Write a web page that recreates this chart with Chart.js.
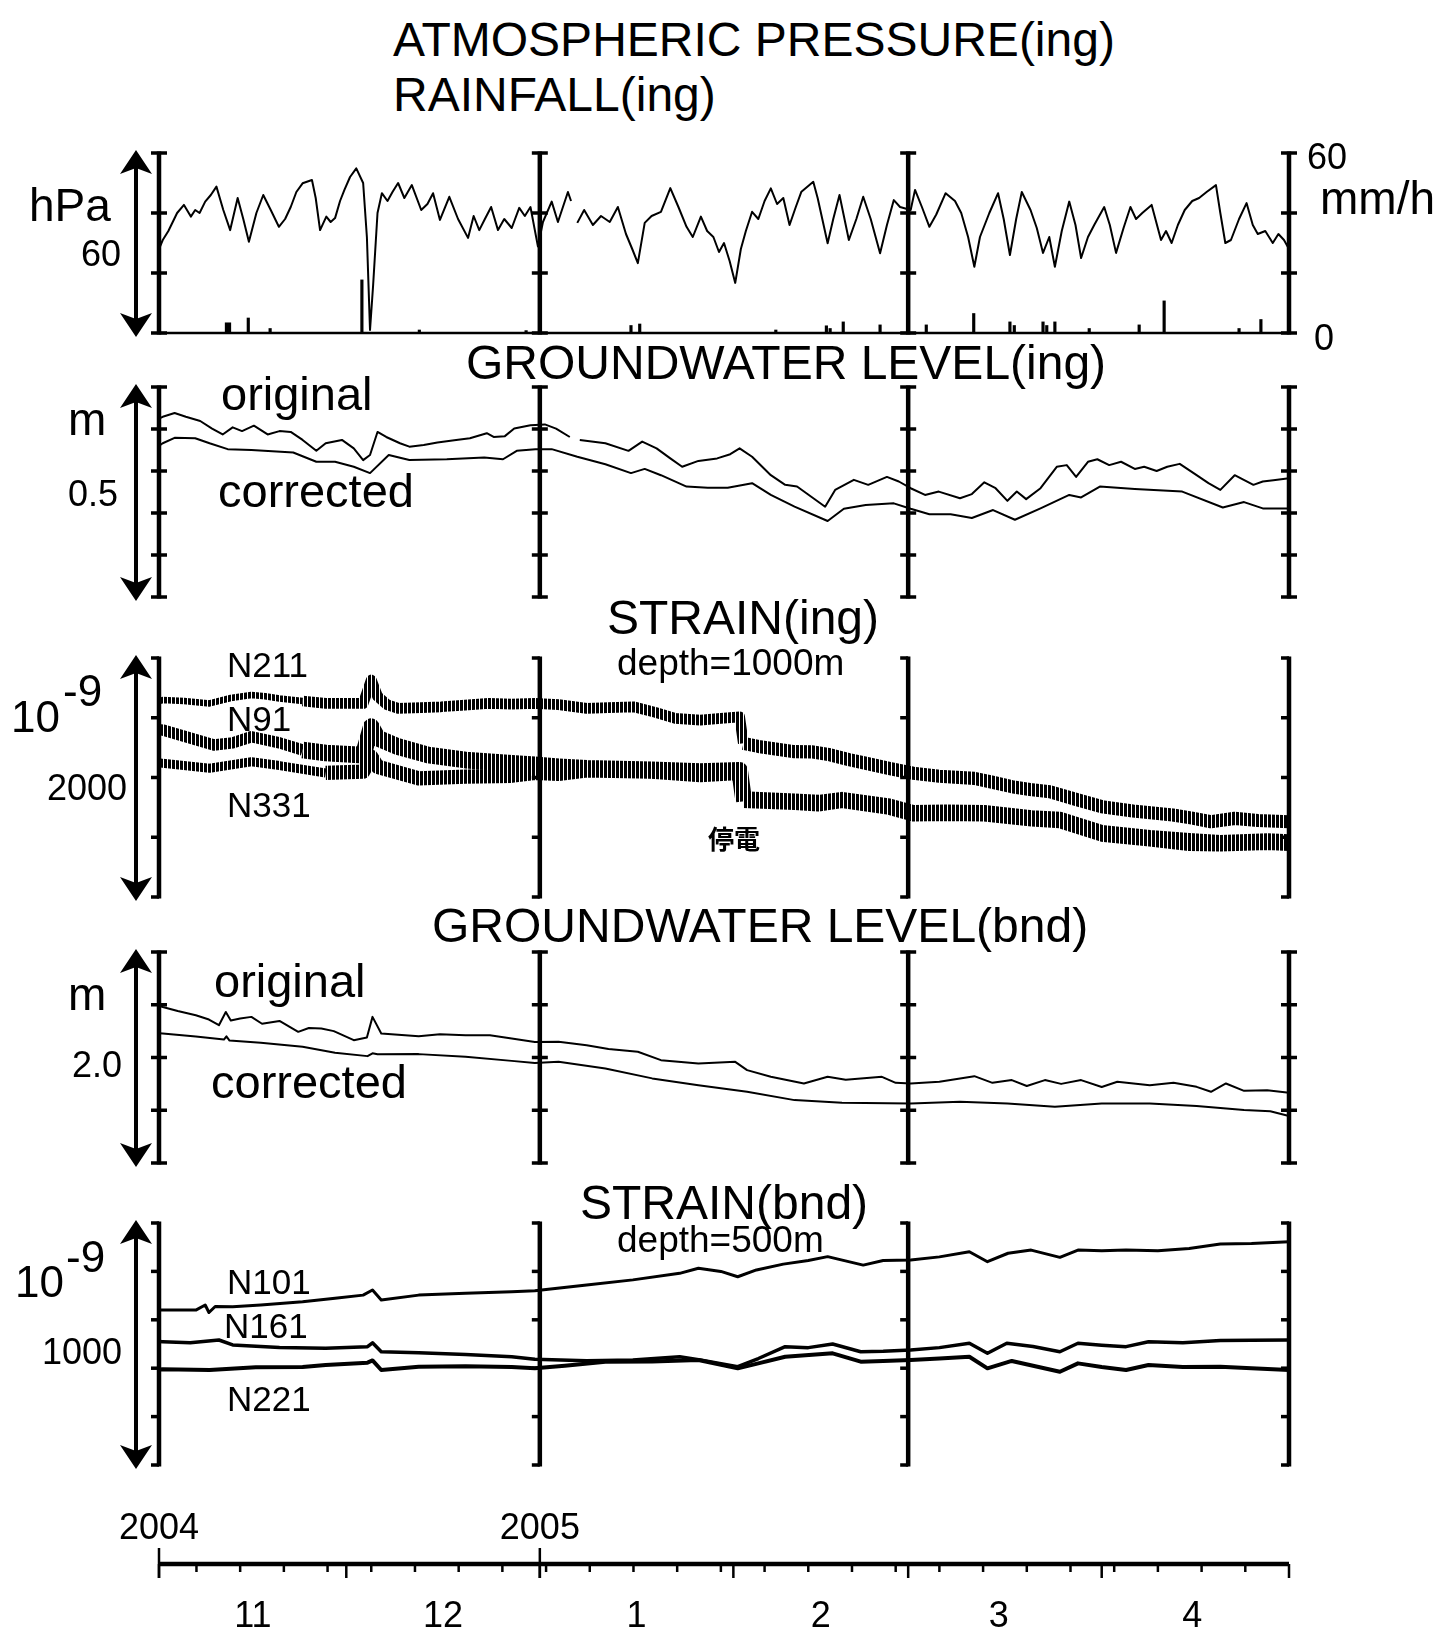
<!DOCTYPE html>
<html>
<head>
<meta charset="utf-8">
<title>ing / bnd record</title>
<script src="https://cdn.jsdelivr.net/npm/chart.js@4.4.1/dist/chart.umd.min.js"></script>
<style>
  html, body { margin: 0; padding: 0; background: #fff; }
  #page { position: relative; width: 1442px; height: 1633px; overflow: hidden;
          font-family: "Liberation Sans", Arial, sans-serif; color: #000; }
  #page canvas { position: absolute; left: 0; }
  .lbl { position: absolute; white-space: nowrap; line-height: 1; }
  .jp { font-family: "Noto Sans CJK JP", sans-serif; font-weight: 700; }
</style>
</head>
<body>
<div id="page"></div>
<script>
// x values are days since 2004-11-01 (0 = Nov 1, 181 = May 1)
const DAY_MAX = 181;
const bracketDays = [0, 61, 120, 181];
const yearStartDays = [0, 61];
const yearLabels = ['2004', '2005'];
const monthStartDays = [0, 30, 61, 92, 120, 151, 181];
const monthMidDays = [15, 45.5, 76.5, 106, 134.5, 165.5];
const monthLabels = ['11', '12', '1', '2', '3', '4'];
const weekTickDays = [6, 13, 20, 27, 34, 41, 48, 55, 62, 69, 76, 83, 90, 97, 104, 111,
  118, 125, 132, 139, 146, 153, 160, 167, 174];

// atmospheric pressure (hPa)
const pressDays = [0, 0.6, 1.5, 2.9, 4, 5.1, 5.8, 6.5, 7.4, 8.3, 9.2, 10.3, 11.4, 12.6, 13.5, 14.4,
  15.6, 16.7, 17.9, 19.2, 20.2, 21.1, 22, 23, 24.5, 25.1, 25.8, 26.8, 27.5, 28.2, 29, 29.7, 30.6,
  31.6, 32.7, 33.3, 33.8, 34.3, 35, 35.7, 36.6, 37.4, 38.3, 39.3, 40.5, 42, 43, 43.9, 45, 46.5,
  47.9, 49.5, 50.4, 51.3, 52.2, 53.2, 54.3, 55.3, 56.5, 57.7, 58.6, 59.5, 60.7, 61.5, 62.9, 63.9,
  65.5, 66, 66.5, 67, 68.1, 69.5, 70.8, 72.2, 73.5, 74.8, 75.8, 76.7, 77.8, 78.9, 80.4, 81.9, 83.2,
  84.5, 85.5, 86.8, 87.8, 88.8, 89.7, 90.5, 91.4, 92.3, 93.2, 94, 95, 96, 97, 98, 99, 100, 101,
  102, 102.9, 104.8, 105.5, 107.1, 108, 109, 110.5, 111.7, 112.8, 114, 115.5, 116.6, 117.7, 118.7,
  120.4, 121.1, 122.2, 123.4, 124.5, 126, 127.5, 128.5, 129.6, 130.6, 131.5, 133, 134.4, 135.3,
  136.3, 137.3, 138.2, 139.6, 140.6, 141.6, 142.6, 143.5, 144.6, 145.8, 146.8, 147.7, 148.8,
  149.8, 151.4, 152.3, 153.3, 154.5, 155.6, 156.5, 157.5, 159, 160.5, 161.3, 162.2, 163.2, 164.3,
  165.5, 166.6, 167.8, 169.3, 170, 170.8, 171.7, 173, 174.2, 175.2, 176, 177.2, 178.4, 179.3,
  180.2, 181];
const pressHpa = [1008, 1011, 1014, 1020, 1022.7, 1018.8, 1021, 1020, 1023.8, 1026, 1028.8, 1021,
  1014.3, 1025, 1018, 1010.4, 1020, 1026, 1021, 1015.4, 1018, 1022, 1027, 1029.9, 1031, 1025,
  1014.3, 1018.8, 1017, 1018.3, 1024, 1027.7, 1032, 1034.9, 1030, 1012, 981, 996, 1020, 1026.6,
  1024, 1027, 1030, 1025, 1029.3, 1021, 1023, 1026.6, 1017.7, 1025.4, 1018, 1011.7, 1019, 1014.3,
  1018, 1022, 1014.3, 1018, 1015, 1021.7, 1019, 1022, 1008.8, 1017, 1023.8, 1017, 1027, 1024,
  null, 1016.7, 1021, 1016, 1019, 1017, 1022, 1013, 1008, 1003.3, 1016.7, 1019, 1020.4, 1028.3,
  1022, 1015.4, 1012, 1018.8, 1014, 1012, 1007, 1010, 1004, 996.7, 1008, 1014, 1020.4, 1018,
  1024, 1028.2, 1023, 1025, 1016, 1022, 1027.1, 1030.4, 1025, 1009.9, 1018, 1026, 1011, 1018,
  1025.4, 1018, 1006.6, 1016, 1024.3, 1022, 1021, 1027.7, 1022, 1015.4, 1019.5, 1026.6, 1024,
  1020, 1012, 1002.1, 1012, 1020, 1026.6, 1018, 1006, 1018, 1027, 1021, 1015, 1006.7, 1012,
  1002.1, 1014, 1023.8, 1016, 1005, 1012, 1016, 1022, 1016, 1006.7, 1015, 1022, 1018, 1020,
  1022.7, 1011, 1014, 1010, 1016, 1021, 1024, 1025, 1027, 1029.3, 1020, 1010, 1011, 1018, 1023.3,
  1016, 1013, 1014, 1010, 1013, 1011, 1008];

// rainfall (mm/h)
const rainDays = [10.8, 11.3, 14.3, 17.8, 32.5, 41.7, 58.8, 75.6, 77, 98.8, 106.9, 107.5, 109.6,
  115.5, 122.9, 130.5, 136.3, 137, 141.6, 142.2, 143.5, 149, 157, 161, 173, 176.5];
const rainMm = [3.4, 3.4, 5, 1.5, 17.7, 1, 0.8, 2.5, 3, 1, 2.4, 1.5, 3.7, 2.7, 2.7, 6.5, 3.7, 2.5,
  3.7, 2.5, 3.7, 1.5, 2.7, 10.7, 1.5, 4.5];

// groundwater level (ing), m
const gwIngOrigDays = [0, 0.6, 2.5, 4.3, 6.6, 8.5, 10.2, 11.8, 13.3, 15.2, 17.4, 19.3, 21.1, 23,
  25.2, 26.7, 29.3, 31.2, 32.7, 33.8, 35, 36.4, 38.6, 40.1, 42.4, 44.6, 47.6, 49.8, 52.5, 53.6,
  55.4, 56.9, 59.5, 61.8, 63.6, 65.8, 66.6, 67.4, 71.5, 75.2, 77.4, 79.7, 81.9, 83.8, 86.4, 89.4,
  91.5, 93, 95, 98, 100.3, 102.2, 106.7, 108.3, 111.3, 113.6, 116.6, 118.5, 120.4, 122.7, 124.9,
  128.3, 130.2, 132.2, 134, 135.9, 137.4, 138.9, 141.2, 143.8, 145.4, 146.9, 148.8, 150.3, 152.2,
  154.1, 156.3, 157.8, 159.8, 161.5, 163.5, 166.2, 168.1, 170, 172.3, 175.3, 176.8, 178.5, 181];
const gwIngOrig = [0.425, 0.429, 0.438, 0.429, 0.419, 0.401, 0.387, 0.404, 0.395, 0.408, 0.387,
  0.395, 0.393, 0.374, 0.348, 0.366, 0.374, 0.354, 0.326, 0.338, 0.393, 0.381, 0.366, 0.358, 0.362,
  0.368, 0.374, 0.378, 0.39, 0.381, 0.383, 0.401, 0.409, 0.411, 0.401, 0.381, null, 0.374, 0.366,
  0.348, 0.37, 0.354, 0.33, 0.31, 0.324, 0.33, 0.34, 0.354, 0.334, 0.29, 0.267, 0.263, 0.215,
  0.255, 0.279, 0.267, 0.286, 0.275, 0.259, 0.243, 0.251, 0.235, 0.245, 0.273, 0.259, 0.229, 0.251,
  0.233, 0.259, 0.31, 0.314, 0.286, 0.322, 0.328, 0.314, 0.322, 0.305, 0.31, 0.3, 0.31, 0.317,
  0.29, 0.271, 0.255, 0.29, 0.267, 0.275, 0.278, 0.283];
const gwIngCorrDays = [0, 0.6, 2.5, 5.8, 8.1, 11, 14.8, 21.5, 25.2, 28.2, 31.2, 33.8, 36.8, 40.1,
  46.1, 52.1, 55.1, 57.3, 60.3, 62.9, 67, 71.5, 75.6, 77.8, 80.4, 84.5, 87.9, 91.1, 95, 98, 101.8,
  107.1, 109.7, 113.2, 117.7, 120.4, 123.4, 126.8, 130.2, 133.6, 137.1, 141.2, 145.8, 147.7, 150.7,
  156.3, 163.9, 170.4, 173.8, 176.8, 181];
const gwIngCorr = [0.36, 0.366, 0.379, 0.378, 0.366, 0.352, 0.35, 0.344, 0.322, 0.322, 0.31,
  0.295, 0.338, 0.326, 0.328, 0.332, 0.328, 0.348, 0.352, 0.352, 0.334, 0.316, 0.295, 0.305, 0.29,
  0.263, 0.26, 0.26, 0.271, 0.243, 0.215, 0.181, 0.21, 0.219, 0.223, 0.21, 0.197, 0.197, 0.188,
  0.207, 0.184, 0.211, 0.243, 0.237, 0.263, 0.257, 0.251, 0.213, 0.226, 0.211, 0.211];

// strain (ing), 1e-9, depth 1000 m
const n211Days = [0, 0.6, 4, 8.1, 11.5, 14.8, 17, 19.3, 23, 26.7, 32.7, 34, 35, 36.5, 38.3, 42,
  45.2, 49, 52.8, 56.5, 60.2, 64, 68.5, 72, 76, 79.5, 82.7, 86.7, 90, 93, 93.6, 96, 101.8, 104.5,
  107.5, 110.5, 113.2, 117, 120.8, 125, 130.6, 133.5, 136.6, 139.5, 142.7, 147, 151, 156, 162.4,
  165.5, 168.5, 172.3, 176, 181];
const n211 = [1640, 1648, 1640, 1620, 1665, 1690, 1680, 1662, 1640, 1620, 1620, 1816, 1680, 1610,
  1579, 1585, 1592, 1605, 1620, 1615, 1620, 1610, 1579, 1585, 1592, 1545, 1495, 1481, 1495, 1508,
  1286, 1260, 1216, 1215, 1190, 1150, 1119, 1075, 1035, 1010, 993, 960, 923, 900, 881, 815, 756,
  720, 686, 660, 630, 658, 640, 630];
const n91Days = [0, 0.6, 4.3, 8.8, 11.8, 14.8, 19.3, 23, 26.7, 32.7, 34, 35, 38.3, 43.1, 49.1,
  56.5, 60.2, 64, 68.5, 78.9, 86.7, 93, 93.6, 101.8, 105.6, 109.4, 117, 120.8, 126, 132.2, 139.8,
  144.3, 151, 158.7, 165, 170, 177.6, 181];
const n91 = [1400, 1397, 1341, 1272, 1289, 1341, 1290, 1230, 1205, 1188, 1425, 1330, 1258, 1188,
  1146, 1119, 1105, 1090, 1077, 1063, 1050, 1060, 830, 812, 800, 825, 770, 715, 720, 715, 672, 658,
  548, 505, 480, 463, 478, 470];
const n331Days = [0, 0.6, 8.1, 14.8, 19.3, 26.7, 32.7, 34, 35, 41.6, 49.1, 56.5, 60.2, 64, 68.5,
  78.9, 86.7, 93, 93.6, 101.8, 105.6, 109.4, 117, 120.8, 126, 132.2, 139.8, 144.3, 151, 158.7, 165,
  170, 177.6, 181];
const n331 = [1125, 1119, 1077, 1132, 1100, 1038, 1049, 1174, 1090, 993, 1007, 1015, 1038, 1030,
  1060, 1050, 1020, 1040, 800, 782, 770, 800, 742, 686, 690, 686, 645, 630, 518, 478, 440, 435,
  448, 440];

// tidal band height of the ing strain records (1e-9, peak to peak), from the given day on
const n211BandDays = [0, 22, 93.3];
const n211Band = [55, 90, 110];
const n91BandDays = [0, 22, 93.3];
const n91Band = [95, 140, 110];
const n331BandDays = [0, 22, 93.3];
const n331Band = [75, 120, 110];

// groundwater level (bnd), m
const gwBndOrigDays = [0, 0.6, 3, 5.9, 8, 9.6, 10.7, 11.5, 13, 14.8, 16.5, 19.3, 22.3, 24, 26, 28,
  31.2, 33.3, 34.2, 35.6, 41.6, 45, 49.1, 53, 56.5, 60.2, 64, 68.5, 72, 76.7, 80.4, 86.4, 92.3,
  94.2, 98, 103.3, 107.1, 110, 115.8, 118, 120.4, 125, 130.6, 133.5, 136.6, 139, 141.9, 144.5,
  147.7, 151, 153.5, 158.7, 162.5, 166.2, 168.5, 170.9, 173.8, 177.5, 181];
const gwBndOrig = [1.49, 1.479, 1.44, 1.401, 1.36, 1.306, 1.432, 1.35, 1.37, 1.385, 1.32, 1.347,
  1.243, 1.28, 1.275, 1.25, 1.164, 1.19, 1.385, 1.228, 1.202, 1.22, 1.212, 1.21, 1.18, 1.148, 1.15,
  1.117, 1.08, 1.054, 0.975, 0.944, 0.959, 0.88, 0.817, 0.754, 0.817, 0.79, 0.817, 0.76, 0.754,
  0.77, 0.823, 0.76, 0.786, 0.73, 0.786, 0.75, 0.786, 0.72, 0.77, 0.738, 0.76, 0.722, 0.675, 0.754,
  0.684, 0.69, 0.665];
const gwBndCorrDays = [0, 0.6, 5.9, 10.4, 10.8, 11.3, 16.3, 23, 28.2, 33.4, 34.2, 35, 41.6, 49.1,
  56.5, 60.2, 64, 71.5, 79, 86.4, 94.2, 101.8, 109.4, 120.4, 128.3, 135.9, 143.5, 151, 158.7,
  166.2, 173.8, 178, 181];
const gwBndCorr = [1.23, 1.228, 1.2, 1.17, 1.2, 1.16, 1.139, 1.101, 1.044, 1.013, 1.04, 1.03,
  1.032, 1.006, 0.968, 0.949, 0.96, 0.896, 0.802, 0.738, 0.675, 0.596, 0.571, 0.565, 0.58, 0.565,
  0.533, 0.565, 0.565, 0.54, 0.502, 0.49, 0.445];

// strain (bnd), 1e-9, depth 500 m
const n101Days = [0, 0.6, 5.9, 7.4, 8, 9, 11.8, 16.3, 23, 28.2, 32.7, 34.2, 35.6, 41.6, 49.1,
  56.5, 60.2, 68.5, 75.9, 83.4, 86.4, 90, 92.7, 95.7, 100, 104, 107.1, 112.8, 116, 120.4, 125,
  129.8, 132.7, 136, 139.7, 144.3, 147.2, 151, 154.9, 160, 165, 170, 175, 181];
const n101 = [640, 640.5, 640, 661, 630, 655, 654, 661, 675, 689, 702, 723, 682, 702, 710, 716,
  720, 744, 765, 792, 813, 800, 778, 806, 830, 845, 861, 826, 845, 847, 860, 881, 840, 875, 888,
  858, 888, 885, 888, 885, 895, 913, 915, 923];
const n161Days = [0, 0.6, 5, 9.6, 11.8, 19.3, 26.7, 33.4, 34.2, 35.6, 41.6, 49.1, 56.5, 60.2,
  68.5, 75.9, 83.4, 86.7, 92.7, 96, 100.3, 104, 107.9, 112.4, 116, 120.4, 125, 129.8, 132.7, 135.8,
  140, 144.3, 147.2, 151, 154.9, 158.5, 164, 170, 175, 181];
const n161 = [510, 509.5, 505, 516.5, 496, 486, 482, 489, 505, 468, 464, 457, 447.5, 437, 431, 434,
  447.5, 434, 406, 440, 489, 485, 500, 468, 470, 475, 485, 503, 461.5, 503, 490, 468, 503, 495, 489,
  509.5, 505, 514, 515, 516.5];
const n221Days = [0, 0.6, 8.1, 15.5, 23, 26.7, 33.4, 34.2, 35.6, 41.6, 49.1, 56.5, 60.2, 65, 71.5,
  79, 86.4, 92.7, 96, 100.3, 107.9, 112.4, 116, 120.4, 125, 129.8, 132.7, 136.6, 140, 144.3, 147.2,
  151, 154.9, 158.5, 164, 170, 175, 181];
const n221 = [395, 395.5, 392.5, 404, 405, 413, 423, 432, 392.5, 406, 408, 405, 399.5, 410, 427,
  428, 434, 399.5, 420, 447.5, 461.5, 427, 430, 434, 440, 447.5, 399.5, 430, 410, 385.5, 420, 405,
  392.5, 413, 405, 406, 400, 392.5];

// ---------------------------------------------------------------
const page = document.getElementById('page');
const PAD = 28;
const ARROW_X = 136;

function pts(days, vals) {
  return days.map((d, i) => ({ x: d, y: vals[i] }));
}

// dense vertical hatching: reads like the semidiurnal zig-zag of the strain records
function hatch() {
  const c = document.createElement('canvas');
  c.width = 4; c.height = 1;
  const g = c.getContext('2d');
  g.fillStyle = '#000';
  g.fillRect(0, 0, 3, 1);
  return g.createPattern(c, 'repeat');
}
const HATCH = hatch();

function lineSet(days, vals, width, color) {
  return {
    type: 'line',
    data: pts(days, vals),
    borderColor: color || '#000',
    borderWidth: width,
    pointRadius: 0,
    tension: 0,
    spanGaps: false,
    clip: false,
    borderJoinStyle: 'round'
  };
}

// strain line whose stroke width follows the tidal band height (value units -> pixels)
function bandSet(days, vals, bandDays, band) {
  const ds = lineSet(days, vals, 2, HATCH);
  ds.segment = {
    borderWidth: ctx => {
      const chart = ctx.chart;
      const d = ctx.p0.parsed.x;
      let b = band[0];
      bandDays.forEach((bd, i) => { if (d >= bd) b = band[i]; });
      const ys = chart.scales.y;
      return Math.max(2, Math.abs(ys.getPixelForValue(0) - ys.getPixelForValue(b)));
    }
  };
  return ds;
}

function drawArrow(ctx, x, y0, y1) {
  ctx.lineWidth = 4;
  ctx.beginPath();
  ctx.moveTo(x, y0 + 12);
  ctx.lineTo(x, y1 - 12);
  ctx.stroke();
  [[y0, 1], [y1, -1]].forEach(([tip, dir]) => {
    ctx.beginPath();
    ctx.moveTo(x, tip);
    ctx.lineTo(x + 16, tip + dir * 24);
    ctx.lineTo(x, tip + dir * 18);
    ctx.lineTo(x - 16, tip + dir * 24);
    ctx.closePath();
    ctx.fill();
  });
}

const framePlugin = {
  id: 'frame',
  beforeDatasetsDraw(chart, args, o) {
    const { ctx, chartArea: a } = chart;
    const xs = chart.scales.x;
    const ys = chart.scales.y;
    ctx.save();
    ctx.strokeStyle = '#000';
    ctx.fillStyle = '#000';
    const n = Math.round((ys.max - ys.min) / o.step);
    const tickPix = [];
    for (let i = 0; i <= n; i++) tickPix.push(ys.getPixelForValue(ys.min + i * o.step));

    bracketDays.forEach(d => {
      const px = xs.getPixelForValue(d);
      ctx.lineWidth = 4.5;
      ctx.beginPath();
      ctx.moveTo(px, a.top - 1.5);
      ctx.lineTo(px, a.bottom + 1.5);
      ctx.stroke();
      ctx.lineWidth = 3.5;
      tickPix.forEach(py => {
        ctx.beginPath();
        ctx.moveTo(px - 8, py);
        ctx.lineTo(o.hook ? px : px + 8, py);
        ctx.stroke();
      });
    });

    if (o.baseline) {
      ctx.lineWidth = 2.5;
      ctx.beginPath();
      ctx.moveTo(a.left, a.bottom);
      ctx.lineTo(a.right, a.bottom);
      ctx.stroke();
    }

    drawArrow(ctx, ARROW_X, a.top - 3, a.bottom + 4);
    ctx.restore();
  }
};

function makeCanvas(top, height) {
  const c = document.createElement('canvas');
  c.width = 1442;
  c.height = height;
  c.style.top = top + 'px';
  page.appendChild(c);
  return c;
}

function makePanel(p) {
  const canvas = makeCanvas(p.top - PAD, p.bottom - p.top + 2 * PAD);
  const scales = {
    x: { type: 'linear', min: 0, max: DAY_MAX, display: false, offset: false },
    y: { type: 'linear', min: p.yMin, max: p.yMax, display: false }
  };
  if (p.rain) scales.yRain = { type: 'linear', min: 0, max: 60, display: false };
  return new Chart(canvas, {
    type: 'line',
    data: { datasets: p.datasets },
    options: {
      responsive: false,
      animation: false,
      devicePixelRatio: 1,
      layout: { padding: { left: 159, right: 1442 - 1289, top: PAD, bottom: PAD } },
      plugins: {
        legend: { display: false },
        tooltip: { enabled: false },
        frame: { step: p.step, hook: p.hook, baseline: !!p.rain }
      },
      scales
    },
    plugins: [framePlugin]
  });
}

// panel 1: pressure + rainfall
makePanel({
  top: 153, bottom: 333, yMin: 980, yMax: 1040, step: 20, hook: false, rain: true,
  datasets: [
    lineSet(pressDays, pressHpa, 2),
    {
      type: 'bar',
      data: pts(rainDays, rainMm),
      yAxisID: 'yRain',
      backgroundColor: '#000',
      barThickness: 2.5,
      grouped: false
    }
  ]
});

// panel 2: groundwater level (ing)
makePanel({
  top: 387, bottom: 597, yMin: 0, yMax: 0.5, step: 0.1, hook: false,
  datasets: [
    lineSet(gwIngOrigDays, gwIngOrig, 2),
    lineSet(gwIngCorrDays, gwIngCorr, 2)
  ]
});

// panel 3: strain (ing)
makePanel({
  top: 658, bottom: 897, yMin: 0, yMax: 2000, step: 500, hook: true,
  datasets: [
    bandSet(n211Days, n211, n211BandDays, n211Band),
    bandSet(n91Days, n91, n91BandDays, n91Band),
    bandSet(n331Days, n331, n331BandDays, n331Band)
  ]
});

// panel 4: groundwater level (bnd)
makePanel({
  top: 952, bottom: 1163, yMin: 0, yMax: 2.0, step: 0.5, hook: false,
  datasets: [
    lineSet(gwBndOrigDays, gwBndOrig, 2),
    lineSet(gwBndCorrDays, gwBndCorr, 2)
  ]
});

// panel 5: strain (bnd)
makePanel({
  top: 1223, bottom: 1465, yMin: 0, yMax: 1000, step: 200, hook: true,
  datasets: [
    lineSet(n101Days, n101, 3),
    lineSet(n161Days, n161, 3.5),
    lineSet(n221Days, n221, 4)
  ]
});

// time axis
const timeAxisPlugin = {
  id: 'timeAxis',
  afterDraw(chart) {
    const { ctx, chartArea: a } = chart;
    const xs = chart.scales.x;
    const y0 = a.top;
    const tick = (d, up, down, w) => {
      const px = xs.getPixelForValue(d);
      ctx.lineWidth = w;
      ctx.beginPath();
      ctx.moveTo(px, y0 - up);
      ctx.lineTo(px, y0 + down);
      ctx.stroke();
    };
    ctx.save();
    ctx.strokeStyle = '#000';
    ctx.lineWidth = 4.5;
    ctx.beginPath();
    ctx.moveTo(xs.getPixelForValue(0), y0);
    ctx.lineTo(xs.getPixelForValue(DAY_MAX), y0);
    ctx.stroke();
    weekTickDays.forEach(d => tick(d, 0, 8, 2.5));
    monthStartDays.forEach(d => tick(d, 0, 14, 2.5));
    yearStartDays.forEach(d => tick(d, 16, 14, 2.5));
    ctx.restore();
  }
};

const axisCanvas = makeCanvas(1500, 100);
const axisChart = new Chart(axisCanvas, {
  type: 'line',
  data: { datasets: [] },
  options: {
    responsive: false,
    animation: false,
    devicePixelRatio: 1,
    layout: { padding: { left: 159, right: 1442 - 1289, top: 64, bottom: 35 } },
    plugins: { legend: { display: false }, tooltip: { enabled: false } },
    scales: {
      x: { type: 'linear', min: 0, max: DAY_MAX, display: false },
      y: { type: 'linear', min: 0, max: 1, display: false }
    }
  },
  plugins: [timeAxisPlugin]
});

// ---- text ----
function label(text, left, baseline, size, cls) {
  const el = document.createElement('div');
  el.className = 'lbl' + (cls ? ' ' + cls : '');
  el.textContent = text;
  el.style.fontSize = size + 'px';
  el.style.left = left + 'px';
  const asc = cls === 'jp' ? 0.88 : 0.8465;
  el.style.top = (baseline - asc * size) + 'px';
  page.appendChild(el);
  return el;
}
function centered(text, cx, baseline, size) {
  const el = label(text, 0, baseline, size);
  el.style.left = (cx - el.offsetWidth / 2) + 'px';
}

label('ATMOSPHERIC PRESSURE(ing)', 393, 57, 48);
label('RAINFALL(ing)', 393, 112, 48);
label('hPa', 29, 221, 46);
label('60', 81, 266, 36);
label('60', 1307, 169, 36);
label('mm/h', 1320, 214, 46);
label('0', 1314, 350, 36);

label('GROUNDWATER LEVEL(ing)', 466, 380, 48);
label('original', 221, 410, 47);
label('m', 68, 435, 46);
label('corrected', 218, 507, 47);
label('0.5', 68, 506, 36);

label('STRAIN(ing)', 607, 635, 48);
label('depth=1000m', 617, 675, 37);
label('N211', 227, 677, 35);
label('N91', 227, 731, 35);
label('N331', 227, 817, 35);
label('2000', 47, 800, 36);
label('10', 11, 732, 44);
label('-9', 63, 706, 44);
label('停電', 708, 848, 26, 'jp');

label('GROUNDWATER LEVEL(bnd)', 432, 943, 48);
label('original', 214, 997, 47);
label('m', 68, 1010, 46);
label('2.0', 72, 1077, 36);
label('corrected', 211, 1098, 47);

label('STRAIN(bnd)', 580, 1220, 48);
label('depth=500m', 617, 1252, 37);
label('10', 15, 1297, 44);
label('-9', 66, 1272, 44);
label('N101', 227, 1294, 35);
label('N161', 224, 1338, 35);
label('1000', 42, 1364, 36);
label('N221', 227, 1411, 35);

const xAxis = axisChart.scales.x;
yearStartDays.forEach((d, i) => centered(yearLabels[i], xAxis.getPixelForValue(d), 1539, 36));
monthMidDays.forEach((d, i) => centered(monthLabels[i], xAxis.getPixelForValue(d), 1627, 36));
</script>
</body>
</html>
